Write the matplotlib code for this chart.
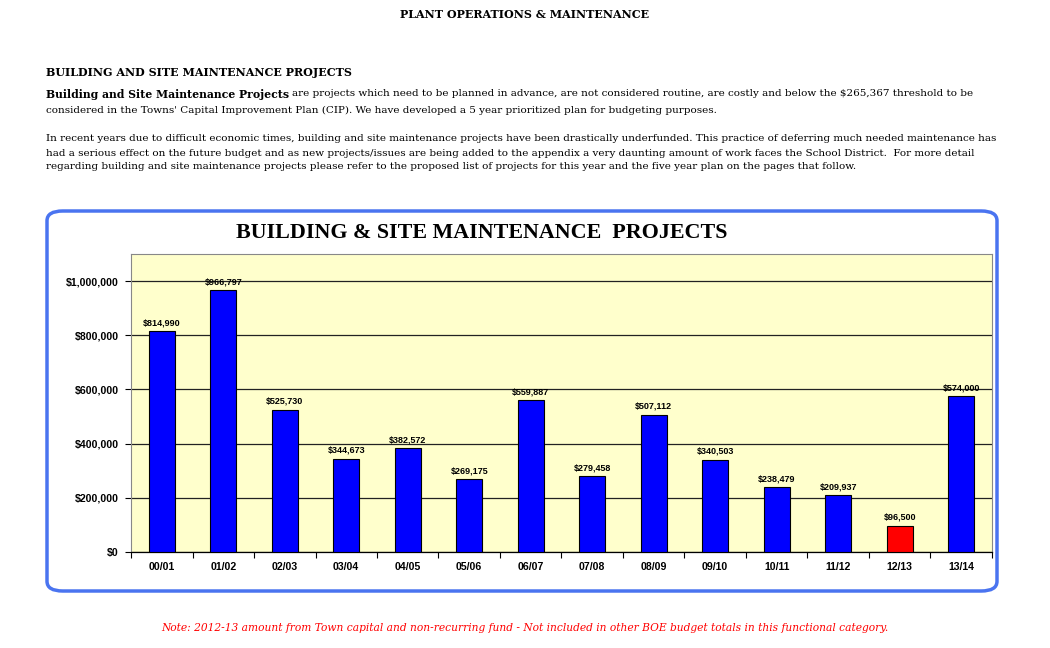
import matplotlib
matplotlib.use('Agg')
import matplotlib.pyplot as plt
from matplotlib.patches import FancyBboxPatch
from matplotlib.ticker import FuncFormatter, MultipleLocator

years = ['00/01', '01/02', '02/03', '03/04', '04/05', '05/06', '06/07',
         '07/08', '08/09', '09/10', '10/11', '11/12', '12/13', '13/14']
amounts = [814990, 966797, 525730, 344673, 382572, 269175, 559887,
           279458, 507112, 340503, 238479, 209937, 96500, 574000]
colors = ['#0000FF'] * len(years)
colors[12] = '#FF0000'

W, H = 1050, 648
fig = plt.figure(figsize=(10.5, 6.48), dpi=100)

def fx(x):
    return x / W

def fy(y):
    return 1 - y / H

serif = 'DejaVu Serif'

# page text
fig.text(fx(525), fy(15), 'PLANT OPERATIONS & MAINTENANCE', ha='center', va='center',
         family=serif, fontsize=8, fontweight='bold')
fig.text(fx(46), fy(73), 'BUILDING AND SITE MAINTENANCE PROJECTS', ha='left', va='center',
         family=serif, fontsize=8, fontweight='bold')

renderer = fig.canvas.get_renderer()
t = fig.text(fx(46), fy(94), 'Building and Site Maintenance Projects', ha='left', va='center',
             family=serif, fontsize=7.8, fontweight='bold')
bb = t.get_window_extent(renderer)
fig.text(bb.x1 / W + fx(3), fy(94),
         'are projects which need to be planned in advance, are not considered routine, '
         'are costly and below the $265,367 threshold to be',
         ha='left', va='center', family=serif, fontsize=7.5)
body = [
    (110, "considered in the Towns' Capital Improvement Plan (CIP). We have developed a 5 year prioritized plan for budgeting purposes."),
    (139, 'In recent years due to difficult economic times, building and site maintenance projects have been drastically underfunded. This practice of deferring much needed maintenance has'),
    (154, 'had a serious effect on the future budget and as new projects/issues are being added to the appendix a very daunting amount of work faces the School District.  For more detail'),
    (167, 'regarding building and site maintenance projects please refer to the proposed list of projects for this year and the five year plan on the pages that follow.'),
]
for y, s in body:
    fig.text(fx(46), fy(y), s, ha='left', va='center', family=serif, fontsize=7.5)

# chart frame
frame = FancyBboxPatch((fx(47), fy(591)), fx(997 - 47), (591 - 211) / H,
                       boxstyle='round,pad=0,rounding_size=0.015',
                       transform=fig.transFigure, facecolor='white',
                       edgecolor='#4A74F0', linewidth=2.5, zorder=-5)
fig.patches.append(frame)

fig.text(fx(482), fy(233), 'BUILDING & SITE MAINTENANCE  PROJECTS', ha='center', va='center',
         family='Liberation Serif', fontsize=15.8, fontweight='bold')

ax = fig.add_axes([fx(131), fy(552), fx(992 - 131), (552 - 254) / H])
ax.set_zorder(2)
ax.set_facecolor('#FFFFCC')
x = range(len(years))
ax.bar(x, amounts, width=0.42, color=colors, edgecolor='black', linewidth=0.8, zorder=3)
for i, v in enumerate(amounts):
    ax.text(i, v + 15000, '${:,}'.format(v), ha='center', va='bottom',
            fontsize=6.5, fontweight='bold', family='Liberation Sans', zorder=4)

ax.set_xlim(-0.5, len(years) - 0.5)
ax.set_ylim(0, 1100000)
ax.yaxis.set_major_locator(MultipleLocator(200000))
ax.yaxis.set_major_formatter(FuncFormatter(lambda v, p: '${:,.0f}'.format(v)))
ax.grid(axis='y', color='#222222', linewidth=0.9, zorder=1)
ax.set_axisbelow(True)
ax.set_xticks(list(x))
ax.set_xticklabels(years)
ax.set_xticks([i - 0.5 for i in range(len(years) + 1)], minor=True)
ax.tick_params(axis='x', which='major', length=0, pad=7)
ax.tick_params(axis='x', which='minor', length=4, width=0.8)
ax.tick_params(axis='y', length=4, width=0.8, pad=5)
for lab in ax.get_xticklabels() + ax.get_yticklabels():
    lab.set_fontweight('bold')
    lab.set_fontsize(7.6)
    lab.set_family('Liberation Sans')
for s in ['top', 'right', 'left']:
    ax.spines[s].set_color('#888888')
    ax.spines[s].set_linewidth(0.8)
ax.spines['bottom'].set_linewidth(0.9)

fig.text(fx(525), fy(628),
         'Note: 2012-13 amount from Town capital and non-recurring fund - Not included in other BOE budget totals in this functional category.',
         ha='center', va='center', family=serif, fontsize=7.7, style='italic', color='#FF0000')

fig.savefig('out.png', dpi=100)
